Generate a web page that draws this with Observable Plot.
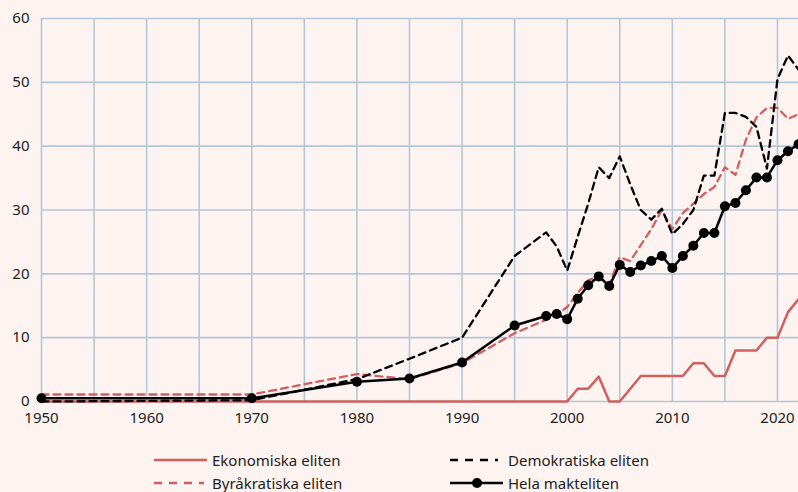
<!DOCTYPE html>
<html>
<head>
<meta charset="utf-8">
<script src="https://cdn.jsdelivr.net/npm/d3@7"></script>
<script src="https://cdn.jsdelivr.net/npm/@observablehq/plot@0.6"></script>
<style>
  html, body { margin: 0; padding: 0; background: #fdf3f0; }
  body { width: 798px; height: 492px; overflow: hidden; font-family: "Noto Sans", sans-serif; color: #222; }
  #legend { position: relative; width: 798px; height: 62px; font-size: 15px; }
  .item { position: absolute; display: flex; align-items: center; height: 16px; line-height: 16px; white-space: nowrap; }
  .item svg { margin-right: 5px; flex: none; }
</style>
</head>
<body>
<div id="chart"></div>
<div id="legend"></div>
<script>
// ---- data ----
const xTicks = [1950, 1960, 1970, 1980, 1990, 2000, 2010, 2020];
const xGrid = [1950, 1955, 1960, 1965, 1970, 1975, 1980, 1985, 1990, 1995, 2000, 2005, 2010, 2015, 2020];
const yTicks = [0, 10, 20, 30, 40, 50, 60];

const seriesNames = ["Ekonomiska eliten", "Demokratiska eliten", "Byråkratiska eliten", "Hela makteliten"];

const annualYears = [2000, 2001, 2002, 2003, 2004, 2005, 2006, 2007, 2008, 2009, 2010, 2011,
  2012, 2013, 2014, 2015, 2016, 2017, 2018, 2019, 2020, 2021, 2022];

const ekoYears = [1950, ...annualYears];
const ekoValues = [0, 0, 2, 2, 3.9, 0, 0, 2, 4, 4, 4, 4, 4, 6, 6, 4, 4, 8, 8, 8, 10, 10, 14, 16];

const earlyYears = [1950, 1970, 1980, 1985, 1990, 1995, 1998, 1999];
const demYears = [...earlyYears, ...annualYears];
const demValues = [0, 0.2, 3.5, 6.7, 10, 22.8, 26.5, 24.3,
  20.5, 25.8, 31, 36.7, 35, 38.4, 34, 30, 28.5, 30.2, 26.2, 27.8, 30, 35.4, 35.4,
  45.2, 45.2, 44.6, 43, 36.5, 50.5, 54.2, 52];

const byrYears = [...earlyYears, ...annualYears];
const byrValues = [1.1, 1.1, 4.3, 3.5, 6.0, 10.7, 12.8, 13.6,
  14.8, 17, 19, 19.5, 18.3, 22.6, 22, 24.5, 27, 30, 27, 29.5, 31, 32.5, 33.6,
  36.7, 35.5, 41, 44.5, 46, 46, 44.3, 45];

const helaYears = [...earlyYears, ...annualYears];
const helaValues = [0.5, 0.5, 3.1, 3.6, 6.1, 11.9, 13.4, 13.7,
  12.9, 16.1, 18.2, 19.6, 18.1, 21.4, 20.3, 21.3, 22.0, 22.8, 20.9, 22.8, 24.4, 26.4, 26.4,
  30.6, 31.1, 33.1, 35.1, 35.1, 37.8, 39.2, 40.3];

// ---- styles ----
const RED = "#d0605e";
const BLACK = "#000";
const GRID = "#b3c8d6";
const FONT = "'Noto Sans', sans-serif";

const toRows = (ys, vs) => ys.map((x, i) => ({x, y: vs[i]}));
const eko = toRows(ekoYears, ekoValues);
const dem = toRows(demYears, demValues);
const byr = toRows(byrYears, byrValues);
const hela = toRows(helaYears, helaValues);

const chart = Plot.plot({
  width: 798,
  height: 430,
  marginLeft: 41,
  marginRight: 0,
  marginTop: 18,
  marginBottom: 29,
  style: {background: "transparent", fontFamily: FONT, fontSize: "15px", color: "#222", overflow: "visible"},
  x: {domain: [1950, 2022], label: null},
  y: {domain: [0, 60], label: null},
  marks: [
    Plot.gridX(xGrid, {stroke: GRID, strokeOpacity: 1, strokeWidth: 1.6}),
    Plot.gridY(yTicks, {stroke: GRID, strokeOpacity: 1, strokeWidth: 1.6}),
    Plot.axisX({ticks: xTicks, tickFormat: d => String(d), tickSize: 0, tickPadding: 11, label: null}),
    Plot.axisY({ticks: yTicks, tickSize: 0, tickPadding: 12, label: null}),
    Plot.line(eko, {x: "x", y: "y", stroke: RED, strokeWidth: 2.5}),
    Plot.line(byr, {x: "x", y: "y", stroke: RED, strokeWidth: 2.3, strokeDasharray: "7,5"}),
    Plot.line(dem, {x: "x", y: "y", stroke: BLACK, strokeWidth: 2.3, strokeDasharray: "7,5"}),
    Plot.line(hela, {x: "x", y: "y", stroke: BLACK, strokeWidth: 2.5}),
    Plot.dot(hela, {x: "x", y: "y", fill: BLACK, r: 5})
  ]
});
document.getElementById("chart").appendChild(chart);

// ---- legend ----
const legendItems = [
  {name: seriesNames[0], stroke: RED, dash: null, dot: false, left: 154, top: 22, w: 53, len: 53},
  {name: seriesNames[1], stroke: BLACK, dash: "8,7", dot: false, left: 450, top: 22, w: 53, len: 48},
  {name: seriesNames[2], stroke: RED, dash: "8,7", dot: false, left: 154, top: 45, w: 53, len: 50},
  {name: seriesNames[3], stroke: BLACK, dash: null, dot: true, left: 450, top: 45, w: 53, len: 53}
];
const legend = document.getElementById("legend");
for (const it of legendItems) {
  const div = document.createElement("div");
  div.className = "item";
  div.style.left = it.left + "px";
  div.style.top = it.top + "px";
  div.innerHTML = `<svg width="${it.w}" height="12">
    <line x1="0" x2="${it.len}" y1="6" y2="6" stroke="${it.stroke}" stroke-width="2.4" ${it.dash ? `stroke-dasharray="${it.dash}"` : ""}/>
    ${it.dot ? `<circle cx="27" cy="6" r="5" fill="${it.stroke}"/>` : ""}
  </svg><span>${it.name}</span>`;
  legend.appendChild(div);
}
</script>
</body>
</html>
